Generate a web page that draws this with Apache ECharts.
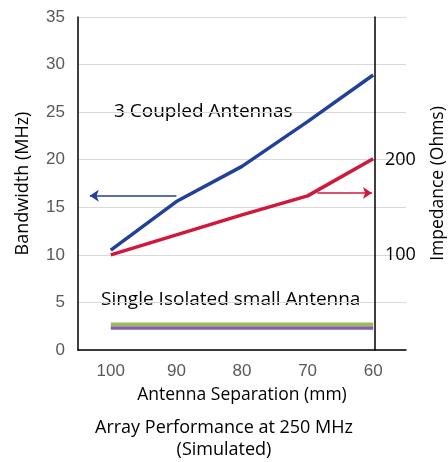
<!DOCTYPE html>
<html>
<head>
<meta charset="utf-8">
<script src="https://cdn.jsdelivr.net/npm/echarts@6/dist/echarts.min.js"></script>
<style>
    html, body { margin: 0; padding: 0; background: #fff; }
    #chart { width: 448px; height: 462px; }
</style>
</head>
<body>
<div id="chart"></div>
<script>
// 数据
const separations = ['100', '90', '80', '70', '60']
const coupledBandwidth = [10.5, 15.6, 19.3, 24.0, 28.9]
const coupledImpedance = [100, 121, 142, 162, 201]
const isolatedBandwidth = [2.7, 2.7, 2.7, 2.7, 2.7]
const isolatedImpedance = [2.3, 2.3, 2.3, 2.3, 2.3]
const impedanceTicks = [100, 200]
// arrows, in category index / bandwidth units
const blueArrow = [[1.0, 16.2], [-0.32, 16.2]]
const redArrow = [[3.15, 16.5], [3.98, 16.5]]

const font = "'Open Sans', 'Liberation Sans', sans-serif"
const tickFont = "'Liberation Sans', Arial, sans-serif"

let myChart = echarts.init(document.getElementById('chart'))
let option = {
    animation: false,
    title: {
        text: 'Array Performance at 250 MHz\n(Simulated)',
        left: 'center',
        top: 412,
        textStyle: { fontFamily: font, fontSize: 18, fontWeight: 'normal', color: '#000', lineHeight: 22 }
    },
    grid: { left: 78, right: 42, top: 17, bottom: 112, outerBoundsMode: 'none' },
    xAxis: [
        {
            type: 'category',
            data: separations,
            axisLine: { lineStyle: { color: '#000', width: 1.5 } },
            axisTick: { show: false },
            axisLabel: { color: '#595959', fontSize: 17, fontFamily: tickFont, margin: 13 },
            name: 'Antenna Separation (mm)',
            nameLocation: 'middle',
            nameGap: 36,
            nameTextStyle: { color: '#000', fontSize: 17.5, fontFamily: font }
        },
        { type: 'value', min: -0.5, max: 4.5, show: false }
    ],
    yAxis: [
        {
            type: 'value',
            min: 0,
            max: 35,
            interval: 5,
            axisLine: { show: true, onZero: false, lineStyle: { color: '#000', width: 1.5 } },
            axisTick: { show: false },
            axisLabel: { color: '#595959', fontSize: 17, fontFamily: tickFont, margin: 13 },
            splitLine: { lineStyle: { color: '#d9d9d9', width: 1 } },
            name: 'Bandwidth (MHz)',
            nameLocation: 'middle',
            nameGap: 46,
            nameTextStyle: { color: '#000', fontSize: 18, fontFamily: font }
        },
        {
            type: 'value',
            position: 'right',
            offset: -31,
            min: 0,
            max: 350,
            interval: 100,
            axisLine: { show: true, onZero: false, lineStyle: { color: '#000', width: 1.5 } },
            axisTick: { show: false },
            splitLine: { show: false },
            axisLabel: {
                color: '#000', fontSize: 18, fontFamily: font, margin: 10,
                formatter: v => impedanceTicks.includes(v) ? String(v) : ''
            },
            name: 'Impedance (Ohms)',
            nameLocation: 'middle',
            nameGap: 54,
            nameTextStyle: { color: '#000', fontSize: 17.5, fontFamily: font }
        }
    ],
    graphic: [
        {
            type: 'text', left: 114, top: 102,
            style: { text: '3 Coupled Antennas', fill: '#000', font: '19px ' + font }
        },
        {
            type: 'text', left: 101, top: 290,
            style: { text: 'Single Isolated small Antenna', fill: '#000', font: '19px ' + font }
        }
    ],
    series: [
        {
            name: 'Isolated Impedance', type: 'line',
            data: isolatedImpedance, symbol: 'none',
            lineStyle: { color: '#8064a2', width: 3.5 }
        },
        {
            name: 'Isolated Bandwidth', type: 'line',
            data: isolatedBandwidth, symbol: 'none',
            lineStyle: { color: '#9bbb59', width: 3.5 }
        },
        {
            name: 'Coupled Impedance', type: 'line', yAxisIndex: 1,
            data: coupledImpedance, symbol: 'none',
            lineStyle: { color: '#d2173c', width: 3.5 }
        },
        {
            name: 'Coupled Bandwidth', type: 'line',
            data: coupledBandwidth, symbol: 'none',
            lineStyle: { color: '#20409a', width: 3.5 }
        },
        {
            type: 'lines', coordinateSystem: 'cartesian2d', xAxisIndex: 1, yAxisIndex: 0,
            symbol: ['none', 'arrow'], symbolSize: 9,
            lineStyle: { color: '#20409a', width: 1.5, opacity: 1 },
            data: [{ coords: blueArrow }]
        },
        {
            type: 'lines', coordinateSystem: 'cartesian2d', xAxisIndex: 1, yAxisIndex: 0,
            symbol: ['none', 'arrow'], symbolSize: 9,
            lineStyle: { color: '#d2173c', width: 1.5, opacity: 1 },
            data: [{ coords: redArrow }]
        }
    ]
}
myChart.setOption(option)
</script>
</body>
</html>
